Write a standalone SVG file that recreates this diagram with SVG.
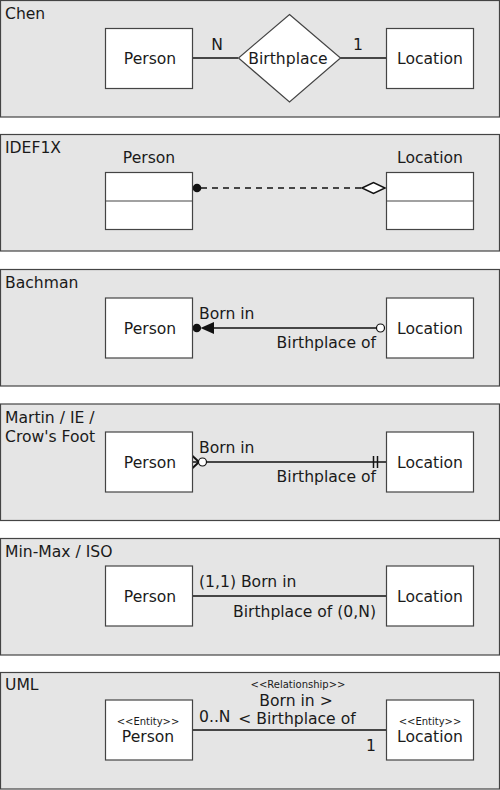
<svg xmlns="http://www.w3.org/2000/svg" width="500" height="790" viewBox="0 0 500 790">
<style>
.panel{fill:#e5e5e5;stroke:#444;stroke-width:1.2}
.box{fill:#fff;stroke:#444;stroke-width:1.2}
.t{font-family:"DejaVu Sans",sans-serif;font-size:15.6px;fill:#1a1a1a}
.s{font-family:"DejaVu Sans",sans-serif;font-size:10px;fill:#1a1a1a}
.m{text-anchor:middle}
.e{text-anchor:end}
.ln{stroke:#111;stroke-width:1.5;fill:none}
</style>
<g id="panels">
<rect class="panel" x="0.5" y="0.5" width="499" height="116.5"/>
<rect class="panel" x="0.5" y="134.5" width="499" height="116.5"/>
<rect class="panel" x="0.5" y="269.5" width="499" height="116.5"/>
<rect class="panel" x="0.5" y="404" width="499" height="116.5"/>
<rect class="panel" x="0.5" y="538.5" width="499" height="116.5"/>
<rect class="panel" x="0.5" y="672.5" width="499" height="116.5"/>
<text class="t" x="5" y="19">Chen</text>
<text class="t" x="5" y="153">IDEF1X</text>
<text class="t" x="5" y="288">Bachman</text>
<text class="t" x="5" y="422.5">Martin / IE /</text>
<text class="t" x="5" y="441.5">Crow's Foot</text>
<text class="t" x="5" y="557">Min-Max / ISO</text>
<text class="t" x="5" y="690">UML</text>
</g>
<g id="connectors">
<line class="ln" x1="192" y1="58" x2="238" y2="58"/>
<line class="ln" x1="340" y1="58" x2="386" y2="58"/>
<text class="t m" x="217" y="50">N</text>
<text class="t m" x="358" y="50">1</text>
<circle cx="197" cy="188" r="4.3" fill="#111"/>
<line class="ln" x1="201" y1="188" x2="362" y2="188" stroke-dasharray="6,5"/>
<polygon points="362,188 373.5,182.5 385,188 373.5,193.5" fill="#fff" stroke="#111" stroke-width="1.5"/>
<line class="ln" x1="212" y1="328" x2="376" y2="328"/>
<circle cx="196.8" cy="328" r="4.3" fill="#111"/>
<polygon points="200.5,328 214,322 214,334" fill="#111"/>
<circle cx="380.5" cy="328" r="4" fill="#fff" stroke="#111" stroke-width="1.2"/>
<text class="t" x="199" y="319">Born in</text>
<text class="t e" x="376" y="348">Birthplace of</text>
<polyline points="192,455.5 199,462 192,468.5" fill="none" stroke="#111" stroke-width="2"/>
<line class="ln" x1="192" y1="462" x2="198.5" y2="462"/>
<circle cx="202.5" cy="462" r="4" fill="#fff" stroke="#111" stroke-width="1.2"/>
<line class="ln" x1="206.5" y1="462" x2="386" y2="462"/>
<line class="ln" x1="373.5" y1="456" x2="373.5" y2="468"/>
<line class="ln" x1="377.5" y1="456" x2="377.5" y2="468"/>
<text class="t" x="199" y="453">Born in</text>
<text class="t e" x="376" y="482">Birthplace of</text>
<line class="ln" x1="192" y1="596" x2="386" y2="596"/>
<text class="t" x="199" y="587">(1,1) Born in</text>
<text class="t e" x="376" y="617">Birthplace of (0,N)</text>
<line class="ln" x1="192" y1="730" x2="386" y2="730"/>
<text class="s m" x="298" y="688">&lt;&lt;Relationship&gt;&gt;</text>
<text class="t m" x="296" y="706">Born in &gt;</text>
<text class="t m" x="297" y="724">&lt; Birthplace of</text>
<text class="t" x="199" y="722">0..N</text>
<text class="t e" x="376" y="751">1</text>
</g>
<g id="chen-person"><rect class="box" x="105.5" y="28.5" width="87" height="60"/><text class="t m" x="150" y="64">Person</text></g>
<g id="chen-birthplace"><polygon class="box" points="289.5,14.5 340.5,58 289.5,102 238.5,58"/><text class="t m" x="288" y="64">Birthplace</text></g>
<g id="chen-location"><rect class="box" x="386.5" y="28.5" width="87" height="60"/><text class="t m" x="430" y="64">Location</text></g>
<g id="idef-person"><rect class="box" x="105.5" y="172.5" width="87" height="57"/><line class="box" x1="105.5" y1="201" x2="192.5" y2="201"/><text class="t m" x="149" y="163">Person</text></g>
<g id="idef-location"><rect class="box" x="386.5" y="172.5" width="87" height="57"/><line class="box" x1="386.5" y1="201" x2="473.5" y2="201"/><text class="t m" x="430" y="163">Location</text></g>
<g id="bachman-person"><rect class="box" x="105.5" y="298" width="87" height="60"/><text class="t m" x="150" y="334">Person</text></g>
<g id="bachman-location"><rect class="box" x="386.5" y="298" width="87" height="60"/><text class="t m" x="430" y="334">Location</text></g>
<g id="crow-person"><rect class="box" x="105.5" y="432" width="87" height="60"/><text class="t m" x="150" y="468">Person</text></g>
<g id="crow-location"><rect class="box" x="386.5" y="432" width="87" height="60"/><text class="t m" x="430" y="468">Location</text></g>
<g id="minmax-person"><rect class="box" x="105.5" y="566" width="87" height="60"/><text class="t m" x="150" y="602">Person</text></g>
<g id="minmax-location"><rect class="box" x="386.5" y="566" width="87" height="60"/><text class="t m" x="430" y="602">Location</text></g>
<g id="uml-person"><rect class="box" x="105.5" y="700" width="87" height="60"/><text class="s m" x="148" y="725">&lt;&lt;Entity&gt;&gt;</text><text class="t m" x="148" y="742">Person</text></g>
<g id="uml-location"><rect class="box" x="386.5" y="700" width="87" height="60"/><text class="s m" x="430" y="725">&lt;&lt;Entity&gt;&gt;</text><text class="t m" x="430" y="742">Location</text></g>
</svg>
